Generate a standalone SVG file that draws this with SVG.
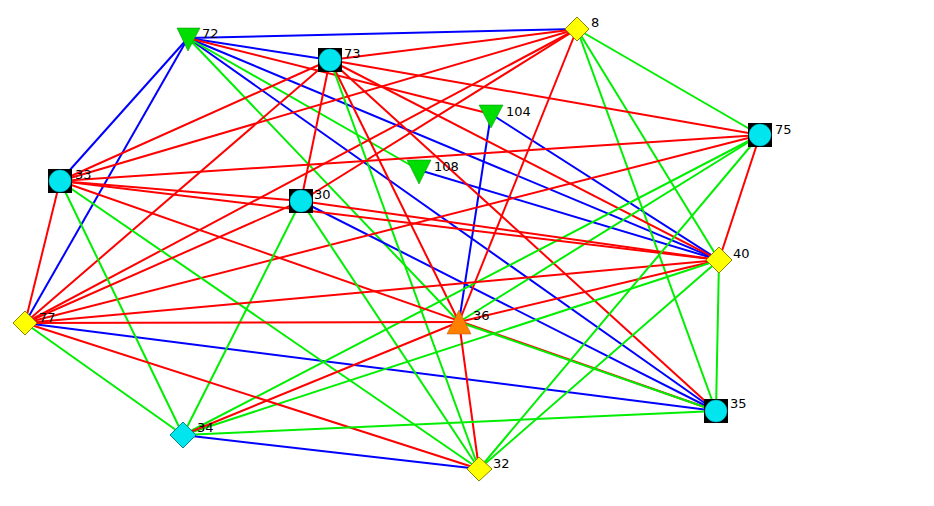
<svg xmlns="http://www.w3.org/2000/svg" width="934" height="506" viewBox="0 0 934 506">
<style>
.e line{stroke-width:2;fill:none}
.r{stroke:#ff0000}.g{stroke:#00ee00}.b{stroke:#0000ff}
.lb{font-family:"DejaVu Sans",sans-serif;font-size:13px;fill:#000}
.sq{fill:#000}.ci{fill:#00e5ee;stroke:#00b0c0;stroke-width:0.5}
.dy{fill:#ffff00;stroke:#888800;stroke-width:1}
.dc{fill:#00e5ee;stroke:#008888;stroke-width:1}
.tg{fill:#00dd00;stroke:#008800;stroke-width:0.5}
.to{fill:#ff8000;stroke:#aa5500;stroke-width:0.5}
</style>
<rect width="934" height="506" fill="#fff"/>
<g id="edges" class="e">
<line class="b" x1="188" y1="38" x2="577" y2="29"/>
<line class="b" x1="188" y1="38" x2="330" y2="60"/>
<line class="b" x1="188" y1="38" x2="60" y2="181"/>
<line class="b" x1="188" y1="38" x2="25" y2="323"/>
<line class="b" x1="188" y1="38" x2="719" y2="260"/>
<line class="b" x1="188" y1="38" x2="716" y2="411"/>
<line class="r" x1="188" y1="38" x2="491" y2="114"/>
<line class="g" x1="188" y1="38" x2="419" y2="170"/>
<line class="g" x1="188" y1="38" x2="459" y2="322"/>
<line class="b" x1="491" y1="114" x2="719" y2="260"/>
<line class="b" x1="491" y1="114" x2="459" y2="322"/>
<line class="b" x1="419" y1="170" x2="719" y2="260"/>
<line class="b" x1="301" y1="201" x2="716" y2="411"/>
<line class="b" x1="25" y1="323" x2="716" y2="411"/>
<line class="b" x1="183" y1="435" x2="479" y2="469"/>
<line class="r" x1="577" y1="29" x2="330" y2="60"/>
<line class="r" x1="577" y1="29" x2="60" y2="181"/>
<line class="r" x1="577" y1="29" x2="301" y2="201"/>
<line class="r" x1="577" y1="29" x2="25" y2="323"/>
<line class="r" x1="577" y1="29" x2="459" y2="322"/>
<line class="g" x1="577" y1="29" x2="760" y2="135"/>
<line class="g" x1="577" y1="29" x2="719" y2="260"/>
<line class="g" x1="577" y1="29" x2="716" y2="411"/>
<line class="r" x1="330" y1="60" x2="760" y2="135"/>
<line class="r" x1="330" y1="60" x2="719" y2="260"/>
<line class="r" x1="330" y1="60" x2="60" y2="181"/>
<line class="r" x1="330" y1="60" x2="25" y2="323"/>
<line class="r" x1="330" y1="60" x2="301" y2="201"/>
<line class="r" x1="330" y1="60" x2="459" y2="322"/>
<line class="r" x1="330" y1="60" x2="716" y2="411"/>
<line class="g" x1="330" y1="60" x2="479" y2="469"/>
<line class="r" x1="760" y1="135" x2="60" y2="181"/>
<line class="r" x1="760" y1="135" x2="25" y2="323"/>
<line class="r" x1="760" y1="135" x2="719" y2="260"/>
<line class="g" x1="760" y1="135" x2="459" y2="322"/>
<line class="g" x1="760" y1="135" x2="183" y2="435"/>
<line class="r" x1="60" y1="181" x2="719" y2="260"/>
<line class="r" x1="60" y1="181" x2="301" y2="201"/>
<line class="r" x1="60" y1="181" x2="25" y2="323"/>
<line class="g" x1="60" y1="181" x2="183" y2="435"/>
<line class="g" x1="60" y1="181" x2="479" y2="469"/>
<line class="r" x1="60" y1="181" x2="716" y2="411"/>
<line class="r" x1="301" y1="201" x2="719" y2="260"/>
<line class="r" x1="301" y1="201" x2="25" y2="323"/>
<line class="g" x1="301" y1="201" x2="183" y2="435"/>
<line class="g" x1="301" y1="201" x2="479" y2="469"/>
<line class="r" x1="719" y1="260" x2="25" y2="323"/>
<line class="r" x1="719" y1="260" x2="459" y2="322"/>
<line class="g" x1="719" y1="260" x2="183" y2="435"/>
<line class="g" x1="719" y1="260" x2="479" y2="469"/>
<line class="g" x1="719" y1="260" x2="716" y2="411"/>
<line class="r" x1="25" y1="323" x2="459" y2="322"/>
<line class="r" x1="25" y1="323" x2="479" y2="469"/>
<line class="g" x1="25" y1="323" x2="183" y2="435"/>
<line class="r" x1="459" y1="322" x2="479" y2="469"/>
<line class="r" x1="459" y1="322" x2="183" y2="435"/>
<line class="g" x1="459" y1="322" x2="716" y2="411"/>
<line class="g" x1="183" y1="435" x2="716" y2="411"/>
<line class="g" x1="479" y1="469" x2="760" y2="135"/>
</g>
<g id="n72"><polygon class="tg" points="177,28 200,28 188,51"/><text class="lb" x="202" y="38">72</text></g>
<g id="n73"><rect class="sq" x="318" y="48" width="24" height="24"/><circle class="ci" cx="330" cy="60" r="11"/><text class="lb" x="344" y="58">73</text></g>
<g id="n8"><polygon class="dy" points="577,17 589,29 577,41 565,29"/><text class="lb" x="591" y="27">8</text></g>
<g id="n104"><polygon class="tg" points="479,105 503,105 491,128"/><text class="lb" x="506" y="116">104</text></g>
<g id="n108"><polygon class="tg" points="407,160 431,160 419,184"/><text class="lb" x="434" y="171">108</text></g>
<g id="n75"><rect class="sq" x="748" y="123" width="24" height="24"/><circle class="ci" cx="760" cy="135" r="11"/><text class="lb" x="775" y="134">75</text></g>
<g id="n33"><rect class="sq" x="48" y="169" width="24" height="24"/><circle class="ci" cx="60" cy="181" r="11"/><text class="lb" x="75" y="179">33</text></g>
<g id="n30"><rect class="sq" x="289" y="189" width="24" height="24"/><circle class="ci" cx="301" cy="201" r="11"/><text class="lb" x="314" y="199">30</text></g>
<g id="n40"><polygon class="dy" points="719,247 732,260 719,273 706,260"/><text class="lb" x="733" y="258">40</text></g>
<g id="n77"><polygon class="dy" points="25,311 37,323 25,335 13,323"/><text class="lb" x="39" y="322">77</text></g>
<g id="n36"><polygon class="to" points="459,310 471,334 447,334"/><text class="lb" x="473" y="320">36</text></g>
<g id="n35"><rect class="sq" x="704" y="399" width="24" height="24"/><circle class="ci" cx="716" cy="411" r="11"/><text class="lb" x="730" y="408">35</text></g>
<g id="n34"><polygon class="dc" points="183,422 196,435 183,448 170,435"/><text class="lb" x="197" y="432">34</text></g>
<g id="n32"><polygon class="dy" points="479,457 492,469 479,481 467,469"/><text class="lb" x="493" y="468">32</text></g>
</svg>
